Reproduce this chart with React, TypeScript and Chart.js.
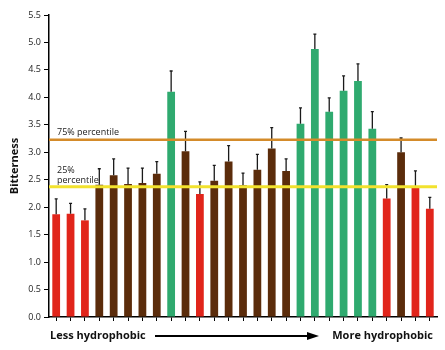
import React, { useEffect, useRef } from "react";
import { Chart, registerables } from "chart.js";

Chart.register(...registerables);

const categories = Array.from({ length: 27 }, (_, i) => String(i + 1));
const means = [1.87, 1.88, 1.76, 2.41, 2.58, 2.42, 2.44, 2.61, 4.1, 3.02, 2.24, 2.48, 2.83, 2.4, 2.68, 3.07, 2.66, 3.52, 4.88, 3.74, 4.12, 4.3, 3.43, 2.16, 3.0, 2.35, 1.97];
const errorTops = [2.15, 2.07, 1.97, 2.7, 2.88, 2.71, 2.71, 2.83, 4.48, 3.38, 2.46, 2.76, 3.12, 2.62, 2.96, 3.45, 2.88, 3.81, 5.15, 3.99, 4.39, 4.61, 3.74, 2.41, 3.26, 2.66, 2.18];
const groups = ["r", "r", "r", "b", "b", "b", "b", "b", "g", "b", "r", "b", "b", "b", "b", "b", "b", "g", "g", "g", "g", "g", "g", "r", "b", "r", "r"];
const p75 = 3.23;
const p25 = 2.37;
const yTicks = [0, 0.5, 1, 1.5, 2, 2.5, 3, 3.5, 4, 4.5, 5, 5.5];

const groupColors: Record<string, string> = { r: "#E1251B", b: "#5B2C0B", g: "#2FAA6F" };

const overlayPlugin = {
  id: "overlay",
  afterDatasetsDraw(chart: any) {
    const { ctx, chartArea, scales } = chart;
    const y = scales.y;
    const meta = chart.getDatasetMeta(0);
    ctx.save();
    // error bars
    ctx.strokeStyle = "#1a1a1a";
    ctx.lineWidth = 1.3;
    meta.data.forEach((bar: any, i: number) => {
      const cx = bar.x;
      const yTop = y.getPixelForValue(errorTops[i]);
      const yMean = y.getPixelForValue(means[i]);
      ctx.beginPath();
      ctx.moveTo(cx, yMean);
      ctx.lineTo(cx, yTop);
      ctx.moveTo(cx - 1.5, yTop);
      ctx.lineTo(cx + 1.5, yTop);
      ctx.stroke();
    });
    // percentile lines
    const y75 = y.getPixelForValue(p75);
    const y25 = y.getPixelForValue(p25);
    ctx.lineWidth = 2.5;
    ctx.strokeStyle = "#D48B2A";
    ctx.beginPath();
    ctx.moveTo(chartArea.left, y75);
    ctx.lineTo(chartArea.right, y75);
    ctx.stroke();
    ctx.strokeStyle = "#F2E22E";
    ctx.lineWidth = 3;
    ctx.beginPath();
    ctx.moveTo(chartArea.left, y25);
    ctx.lineTo(chartArea.right, y25);
    ctx.stroke();
    // labels
    ctx.fillStyle = "#222";
    ctx.font = "9px 'Open Sans', sans-serif";
    ctx.textAlign = "left";
    ctx.textBaseline = "alphabetic";
    ctx.fillText("75% percentile", chartArea.left + 8, y75 - 5);
    ctx.fillText("25%", chartArea.left + 8, y25 - 14);
    ctx.fillText("percentile", chartArea.left + 8, y25 - 4);
    // bottom labels and arrow
    const by = chartArea.bottom + 19;
    ctx.font = "bold 11px 'Open Sans', sans-serif";
    ctx.textBaseline = "middle";
    ctx.fillStyle = "#111";
    ctx.textAlign = "left";
    ctx.fillText("Less hydrophobic", 50, by);
    ctx.textAlign = "right";
    ctx.fillText("More hydrophobic", 433, by);
    ctx.strokeStyle = "#000";
    ctx.lineWidth = 2;
    ctx.beginPath();
    ctx.moveTo(155, by);
    ctx.lineTo(310, by);
    ctx.stroke();
    ctx.fillStyle = "#000";
    ctx.beginPath();
    ctx.moveTo(319, by);
    ctx.lineTo(307, by - 4);
    ctx.lineTo(307, by + 4);
    ctx.closePath();
    ctx.fill();
    ctx.restore();
  },
};

export default function App() {
  const ref = useRef<HTMLCanvasElement | null>(null);
  useEffect(() => {
    document.body.style.margin = "0";
    const chart = new Chart(ref.current as HTMLCanvasElement, {
      type: "bar",
      data: {
        labels: categories,
        datasets: [
          {
            data: means,
            backgroundColor: groups.map((g) => groupColors[g]),
            borderWidth: 0,
            barPercentage: 0.54,
            categoryPercentage: 1,
          },
        ],
      },
      options: {
        animation: false,
        responsive: false,
        maintainAspectRatio: false,
        layout: { padding: { top: 15, right: 8, bottom: 29, left: 0 } },
        plugins: { legend: { display: false }, tooltip: { enabled: false } },
        scales: {
          x: {
            offset: true,
            grid: { display: true, drawOnChartArea: false, drawTicks: true, tickLength: 4, offset: false, color: "#000", lineWidth: 1 },
            border: { display: true, color: "#000", width: 1.5 },
            ticks: { display: false },
          },
          y: {
            min: 0,
            max: 5.5,
            afterBuildTicks: (scale: any) => {
              scale.ticks = yTicks.map((v) => ({ value: v }));
            },
            afterFit: (scale: any) => {
              scale.width = 49;
            },
            grid: { display: true, drawOnChartArea: false, drawTicks: true, tickLength: 5, color: "#000", lineWidth: 1 },
            border: { display: true, color: "#000", width: 1.5 },
            ticks: {
              padding: 3,
              color: "#222",
              font: { size: 9, family: "'Open Sans', sans-serif" },
              callback: (v: any) => Number(v).toFixed(1),
            },
            title: {
              display: true,
              text: "Bitterness",
              color: "#111",
              font: { size: 11, weight: "bold", family: "'Open Sans', sans-serif" },
              padding: { top: 8, bottom: 0 },
            },
          },
        },
      },
      plugins: [overlayPlugin],
    });
    return () => chart.destroy();
  }, []);
  return (
    <div style={{ position: "absolute", left: 0, top: 0, width: 445, height: 350 }}>
      <canvas ref={ref} width={445} height={350} style={{ width: 445, height: 350 }} />
    </div>
  );
}
